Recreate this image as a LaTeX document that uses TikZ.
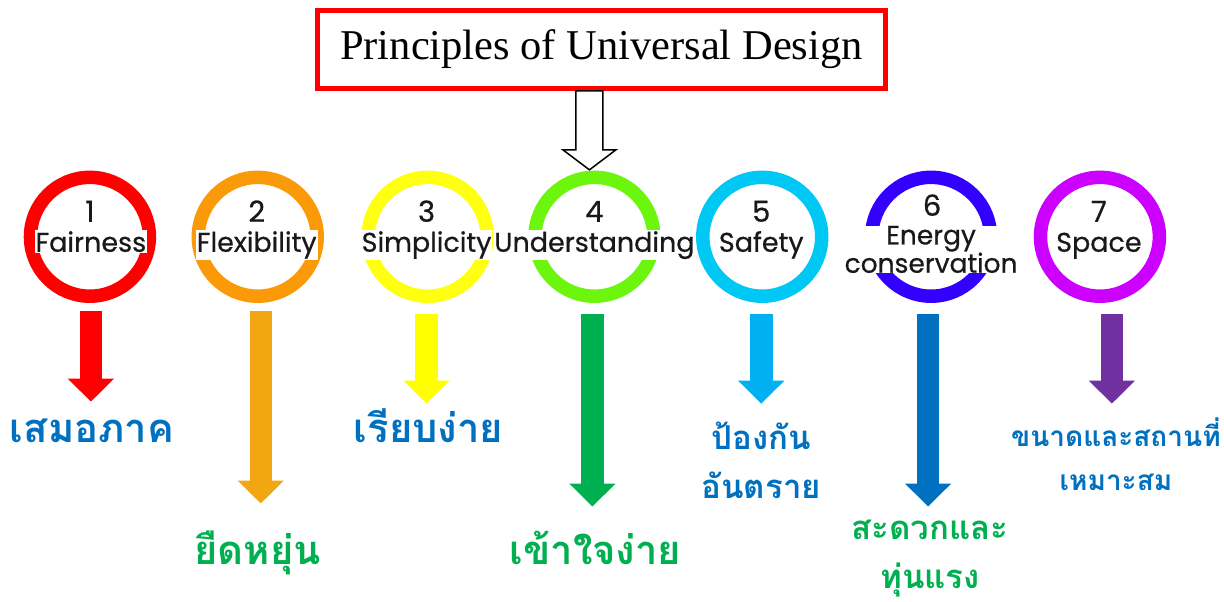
\documentclass[tikz,border=0pt]{standalone}
\usepackage{fontspec}
\setmainfont{Liberation Serif}
\newfontfamily\ringfont[FakeBold=0.6]{Poppins}
\newfontfamily\thaifont[Script=Thai]{Loma}
\usetikzlibrary{positioning,calc,arrows.meta}
\definecolor{ringA}{HTML}{FF0000}
\definecolor{ringB}{HTML}{FB9A08}
\definecolor{ringC}{HTML}{FFFF10}
\definecolor{ringD}{HTML}{6CF60E}
\definecolor{ringE}{HTML}{00C8F5}
\definecolor{ringF}{HTML}{3300FF}
\definecolor{ringG}{HTML}{CC00FF}
\definecolor{arrA}{HTML}{FF0000}
\definecolor{arrB}{HTML}{F2A612}
\definecolor{arrC}{HTML}{FFFF00}
\definecolor{arrD}{HTML}{00B050}
\definecolor{arrE}{HTML}{00B0F0}
\definecolor{arrF}{HTML}{0070C0}
\definecolor{arrG}{HTML}{7030A0}
\definecolor{thblue}{HTML}{0070C0}
\definecolor{thgreen}{HTML}{00B050}

\begin{document}
\begin{tikzpicture}[x=1pt,y=-1pt,
ring/.style={circle,draw,line width=13.5pt,minimum size=119pt,inner sep=0pt},
num/.style={font=\ringfont\fontsize{29}{29}\selectfont,text=black!90,anchor=base,inner sep=0pt},
word/.style={font=\ringfont\fontsize{27}{27}\selectfont,text=black!90,anchor=base,fill=white,inner sep=1pt},
thai/.style={font=\thaifont\bfseries\fontsize{40}{49}\selectfont,anchor=base,align=center},
thaimid/.style={thai,font=\thaifont\bfseries\fontsize{33}{49}\selectfont},
thaismall/.style={thai,font=\thaifont\bfseries\fontsize{28}{44}\selectfont},
blockarrow/.style={line width=22.5pt,-{Triangle[width=45pt,length=23pt]}}]

\fill[white] (0,0) rectangle (1224,602);

% title
\node[draw=ringA,line width=5pt,minimum width=568pt,minimum height=78pt,
  font=\fontsize{42.5}{43}\selectfont] (title) at (602,49.5) {Principles of Universal Design};
\coordinate (h) at (590,91);
\draw[line width=1.5pt,fill=white] (h) ++(-13.5,0) -- ++(27,0) -- ++(0,59) -- ++(13,0)
  -- ++(-26.5,20) -- ++(-26.5,-20) -- ++(13,0) -- cycle;

% rings
\node[ring,draw=ringA] (c1) at (90,237) {};
\node[ring,draw=ringB] (c2) at (258,237) {};
\node[ring,draw=ringC] (c3) at (428,237) {};
\node[ring,draw=ringD] (c4) at (595,237) {};
\node[ring,draw=ringE] (c5) at (763,237) {};
\node[ring,draw=ringF] (c6) at (932,237) {};
\node[ring,draw=ringG] (c7) at (1101,237) {};

% ring labels
\node[num] (n1) at (90,222) {1};
\node[num] (n2) at (257,222) {2};
\node[num] (n3) at (427,222) {3};
\node[num] (n4) at (595,222) {4};
\node[num] (n5) at (762,222) {5};
\node[num] (n6) at (933,216) {6};
\node[num] (n7) at (1100,222) {7};
\node[word] (w1) at (91,252) {Fairness};
\node[word] (w2) at (257,252) {Flexibility};
\node[word] (w3) at (427,252) {Simplicity};
\node[word] (w4) at (595,252) {Understanding};
\node[word] (w5) at (762,252) {Safety};
\node[word,align=center,inner sep=0pt,font=\ringfont\fontsize{26.5}{25}\selectfont] (w6) at (932,273) {Energy\\conservation};
\node[word] (w7) at (1100,252) {Space};

% thai labels
\node[thai,text=thblue] (t1) at (92,443) {เสมอภาค};
\node[thai,text=thgreen] (t2) at (258,565) {ยืดหยุ่น};
\node[thai,text=thblue] (t3) at (429,443) {เรียบง่าย};
\node[thai,text=thgreen] (t4) at (596,565) {เข้าใจง่าย};
\node[thaimid,text=thblue] (t5) at (762,499) {ป้องกัน\\อันตราย};
\node[thaimid,text=thgreen] (t6) at (931,589) {สะดวกและ\\ทุ่นแรง};
\node[thaismall,text=thblue] (t7) at (1117,491) {ขนาดและสถานที่\\เหมาะสม};

% arrows
\coordinate (e1) at (91,402);
\coordinate (e2) at (261,504);
\coordinate (e3) at (427,404);
\coordinate (e4) at (593,507);
\coordinate (e5) at (762,404);
\coordinate (e6) at (929,507);
\coordinate (e7) at (1113,404);
\draw[blockarrow,arrA] ($(c1.south -| e1)+(0,8)$) -- (e1);
\draw[blockarrow,arrB] ($(c2.south -| e2)+(0,8)$) -- (e2);
\draw[blockarrow,arrC] ($(c3.south -| e3)+(0,11)$) -- (e3);
\draw[blockarrow,arrD] ($(c4.south -| e4)+(0,11)$) -- (e4);
\draw[blockarrow,arrE] ($(c5.south -| e5)+(0,11)$) -- (e5);
\draw[blockarrow,arrF] ($(c6.south -| e6)+(0,11)$) -- (e6);
\draw[blockarrow,arrG] ($(c7.south -| e7)+(0,11)$) -- (e7);
\end{tikzpicture}
\end{document}
